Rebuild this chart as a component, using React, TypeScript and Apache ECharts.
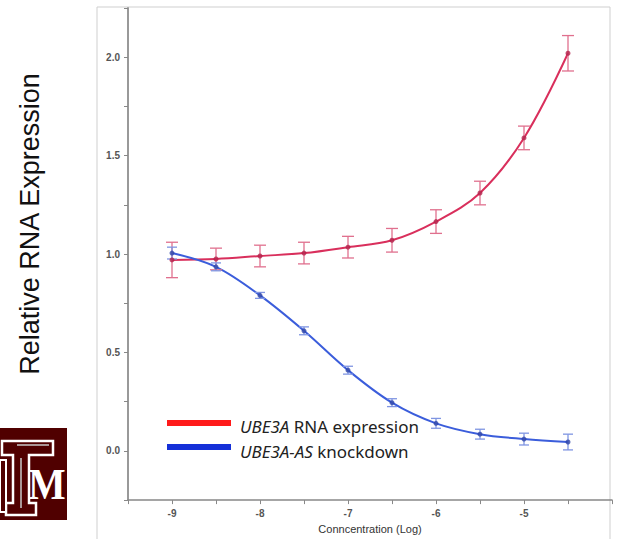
import React, { useEffect, useRef } from "react";
import * as echarts from "echarts";

const concentrations = [-9, -8.5, -8, -7.5, -7, -6.5, -6, -5.5, -5, -4.5];
const ube3aMean = [0.97, 0.975, 0.99, 1.005, 1.035, 1.07, 1.165, 1.31, 1.59, 2.02];
const ube3aErr = [0.09, 0.055, 0.055, 0.055, 0.055, 0.06, 0.06, 0.06, 0.06, 0.09];
const asMean = [1.005, 0.935, 0.79, 0.61, 0.41, 0.245, 0.14, 0.085, 0.06, 0.045];
const asErr = [0.03, 0.02, 0.015, 0.02, 0.02, 0.02, 0.025, 0.025, 0.03, 0.04];
const xTickLabels = [-9, -8, -7, -6, -5];
const yTickLabels = [0, 0.5, 1, 1.5, 2];

const RED_LINE = "#d92f5c";
const RED_ERR = "#e0708e";
const RED_DOT = "#b3204a";
const BLUE_LINE = "#3b5ddb";
const BLUE_ERR = "#7f95e2";
const BLUE_DOT = "#2e45a8";

function errSeries(mean: number[], err: number[], color: string, cap: number) {
  return {
    type: "custom",
    z: 3,
    silent: true,
    data: concentrations.map((x, i) => [x, mean[i] - err[i], mean[i] + err[i]]),
    renderItem: (params: any, api: any) => {
      const x = api.value(0);
      const lo = api.coord([x, api.value(1)]);
      const hi = api.coord([x, api.value(2)]);
      const st = { stroke: color, lineWidth: 1.3 };
      return {
        type: "group",
        children: [
          { type: "line", shape: { x1: lo[0], y1: lo[1], x2: hi[0], y2: hi[1] }, style: st },
          { type: "line", shape: { x1: lo[0] - cap, y1: lo[1], x2: lo[0] + cap, y2: lo[1] }, style: st },
          { type: "line", shape: { x1: hi[0] - cap, y1: hi[1], x2: hi[0] + cap, y2: hi[1] }, style: st },
        ],
      };
    },
  };
}

export default function App() {
  const ref = useRef<HTMLDivElement>(null);
  useEffect(() => {
    if (!ref.current) return;
    const chart = echarts.init(ref.current, null, { renderer: "svg" });
    const axisLabelStyle = {
      fontSize: 10,
      fontFamily: "Liberation Sans, Arial, sans-serif",
      fontWeight: "bold",
      color: "#555",
    };
    const legendText = (t: string, it: string, y: number) => ({
      type: "text",
      x: 240,
      y,
      style: {
        text: `{i|${it}}${t}`,
        fontSize: 17,
        fontFamily: "Noto Sans, Liberation Sans, sans-serif",
        fill: "#222",
        verticalAlign: "middle",
        rich: {
          i: {
            fontStyle: "italic",
            fontSize: 17,
            fontFamily: "Noto Sans, Liberation Sans, sans-serif",
            fill: "#222",
          },
        },
      },
    });
    chart.setOption({
      animation: false,
      backgroundColor: "#ffffff",
      grid: { left: 128, right: 11, top: 8, bottom: 36, containLabel: false },
      xAxis: {
        type: "value",
        min: -9.5,
        max: -4,
        interval: 0.5,
        name: "Conncentration (Log)",
        nameLocation: "middle",
        nameGap: 22,
        nameTextStyle: { fontSize: 11, fontFamily: "Liberation Sans, Arial, sans-serif", color: "#333" },
        axisLine: { show: true, onZero: false, lineStyle: { color: "#888", width: 1.5 } },
        axisTick: { show: true, length: 4, lineStyle: { color: "#888" } },
        axisLabel: {
          ...axisLabelStyle,
          margin: 8,
          formatter: (v: number) => (xTickLabels.some((t) => Math.abs(t - v) < 1e-6) ? String(v) : ""),
        },
        splitLine: { show: false },
      },
      yAxis: {
        type: "value",
        min: -0.25,
        max: 2.25,
        interval: 0.25,
        axisLine: { show: true, onZero: false, lineStyle: { color: "#999", width: 2 } },
        axisTick: { show: true, length: 4, lineStyle: { color: "#888" } },
        axisLabel: {
          ...axisLabelStyle,
          margin: 8,
          formatter: (v: number) => (yTickLabels.some((t) => Math.abs(t - v) < 1e-6) ? v.toFixed(1) : ""),
        },
        splitLine: { show: false },
      },
      graphic: [
        {
          type: "rect",
          z: -10,
          shape: { x: 97, y: 7, width: 513, height: 545 },
          style: { fill: "none", stroke: "#cfcfcf", lineWidth: 1 },
        },
        {
          type: "text",
          x: 30,
          y: 224,
          rotation: Math.PI / 2,
          style: {
            text: "Relative RNA Expression",
            fontSize: 27,
            fontFamily: "Liberation Sans, Arial, sans-serif",
            fill: "#111",
            align: "center",
            verticalAlign: "middle",
          },
        },
        // Logo
        { type: "rect", shape: { x: 0, y: 428, width: 67, height: 92 }, style: { fill: "#500000" } },
        {
          type: "polygon",
          shape: {
            points: [
              [2, 441], [53, 441], [53, 455], [29, 455], [29, 503], [36, 503], [36, 515],
              [6, 515], [6, 503], [13, 503], [13, 455], [2, 455],
            ],
          },
          style: { fill: "#500000", stroke: "#ffffff", lineWidth: 2.5 },
        },
        {
          type: "polyline",
          shape: { points: [[17, 445], [49, 445]] },
          style: { stroke: "#c8c8c8", lineWidth: 1.5 },
        },
        {
          type: "polyline",
          shape: { points: [[21, 458], [21, 508]] },
          style: { stroke: "#c8c8c8", lineWidth: 1.5 },
        },
        {
          type: "polygon",
          shape: { points: [[0, 460], [6, 460], [6, 512], [0, 512]] },
          style: { fill: "#500000", stroke: "#ffffff", lineWidth: 2 },
        },
        {
          type: "text",
          x: 47,
          y: 484,
          scaleX: 0.9,
          style: {
            text: "M",
            fontSize: 44,
            fontWeight: "bold",
            fontFamily: "Liberation Serif, DejaVu Serif, serif",
            fill: "#ffffff",
            align: "center",
            verticalAlign: "middle",
          },
        },
        // Legend
        { type: "rect", shape: { x: 167, y: 420, width: 64, height: 6 }, style: { fill: "#ff1a1a" } },
        { type: "rect", shape: { x: 167, y: 444, width: 64, height: 6 }, style: { fill: "#1530d8" } },
        legendText(" RNA expression", "UBE3A", 426),
        legendText(" knockdown", "UBE3A-AS", 451),
      ],
      series: [
        {
          type: "line",
          smooth: 0.35,
          showSymbol: false,
          z: 2,
          lineStyle: { color: RED_LINE, width: 2 },
          data: concentrations.map((x, i) => [x, ube3aMean[i]]),
        },
        {
          type: "line",
          smooth: 0.35,
          showSymbol: false,
          z: 2,
          lineStyle: { color: BLUE_LINE, width: 2 },
          data: concentrations.map((x, i) => [x, asMean[i]]),
        },
        errSeries(ube3aMean, ube3aErr, RED_ERR, 6),
        errSeries(asMean, asErr, BLUE_ERR, 5),
        {
          type: "scatter",
          z: 4,
          symbolSize: 5,
          itemStyle: { color: RED_DOT },
          data: concentrations.map((x, i) => [x, ube3aMean[i]]),
        },
        {
          type: "scatter",
          z: 4,
          symbolSize: 5,
          itemStyle: { color: BLUE_DOT },
          data: concentrations.map((x, i) => [x, asMean[i]]),
        },
      ],
    });
    return () => chart.dispose();
  }, []);
  return (
    <div
      ref={ref}
      style={{ position: "fixed", left: 0, top: 0, width: 623, height: 539, background: "#fff" }}
    />
  );
}
